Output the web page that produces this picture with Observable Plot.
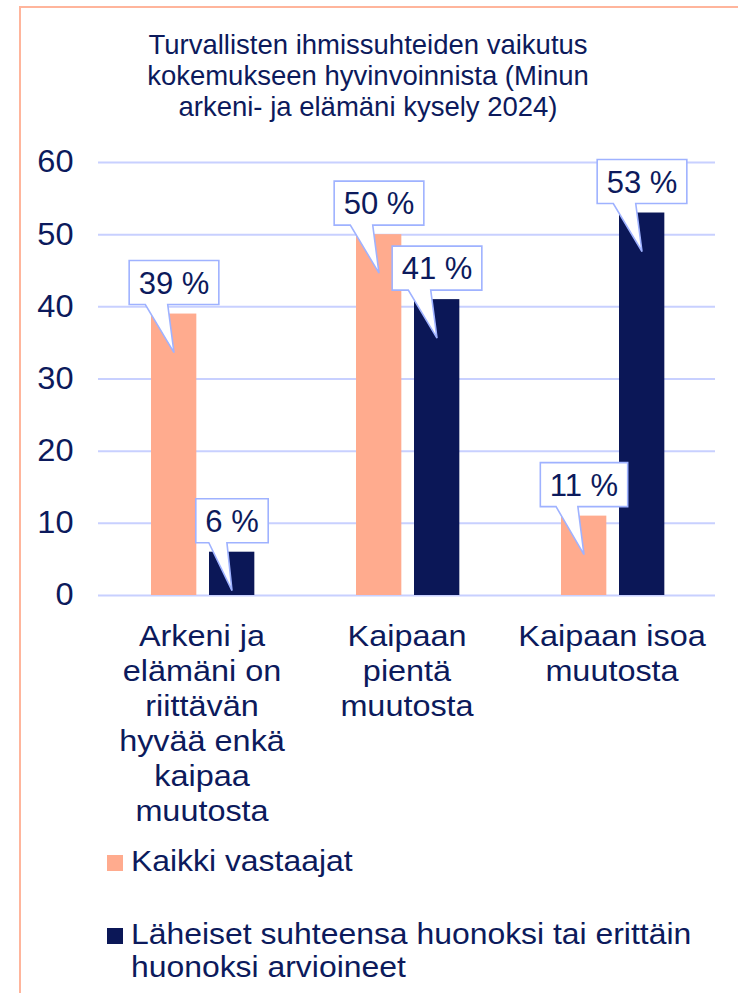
<!DOCTYPE html>
<html><head><meta charset="utf-8">
<script src="https://cdn.jsdelivr.net/npm/d3@7"></script>
<script src="https://cdn.jsdelivr.net/npm/@observablehq/plot@0.6"></script>
<style>
body{margin:0;background:#fff;font-family:"Liberation Sans",Arial,sans-serif;color:#0c1a5c;}
#wrap{position:relative;width:738px;height:993px;overflow:hidden;background:#fff;}
#frame{position:absolute;left:19px;top:6px;width:800px;height:1100px;border-left:2px solid #ffb59c;border-top:2px solid #ffb59c;}
#title{position:absolute;left:0;width:736px;top:29px;text-align:center;font-size:27.5px;line-height:31px;}
#chart{position:absolute;left:0;top:140px;}
#legend{position:absolute;left:107px;top:844px;}
.item{position:relative;padding-left:24px;font-size:30px;line-height:33px;width:590px;}
.lab{display:inline-block;transform:scaleX(1.063);transform-origin:0 0;}
.sw{position:absolute;left:0;top:11px;width:16px;height:16px;}
</style></head>
<body><div id="wrap"><div id="frame"></div><div id="title"></div><div id="chart"></div><div id="legend"></div></div>
<script>
const titleLines = ["Turvallisten ihmissuhteiden vaikutus","kokemukseen hyvinvoinnista (Minun","arkeni- ja elämäni kysely 2024)"];
const categories = ["Arkeni ja elämäni on riittävän hyvää enkä kaipaa muutosta","Kaipaan pientä muutosta","Kaipaan isoa muutosta"];
const categoryLabels = ["Arkeni ja\nelämäni on\nriittävän\nhyvää enkä\nkaipaa\nmuutosta","Kaipaan\npientä\nmuutosta","Kaipaan isoa\nmuutosta"];
const seriesNames = ["Kaikki vastaajat","Läheiset suhteensa huonoksi tai erittäin huonoksi arvioineet"];
const allValues = [39, 50, 11];
const closeValues = [6, 41, 53];
const yTicks = [0, 10, 20, 30, 40, 50, 60];
const seriesColors = ["#ffab8e", "#0b1757"];
const textColor = "#0c1a5c";

document.getElementById("title").innerHTML = titleLines.join("<br>");

const rowsAll = categories.map((c, i) => ({category: c, value: allValues[i]}));
const rowsClose = categories.map((c, i) => ({category: c, value: closeValues[i]}));

const barW = 46;
const insets = [[52, 107.67], [110, 49.67]];

const chart = Plot.plot({
  width: 738, height: 700,
  marginLeft: 98, marginRight: 23, marginTop: 22, marginBottom: 245,
  style: {fontFamily: "'Liberation Sans', Arial, sans-serif", color: textColor, background: "transparent", overflow: "visible"},
  x: {domain: categories, padding: 0, axis: null},
  y: {domain: [0, 60], axis: null},
  marks: [
    Plot.ruleY(yTicks, {stroke: "#c8d0ff", strokeWidth: 2}),
    Plot.text(yTicks, {y: d => d, frameAnchor: "left", dx: -25, textAnchor: "end", text: d => String(d), fontSize: 31, fill: textColor, className: "ytick"}),
    Plot.barY(rowsAll, {x: "category", y: "value", fill: seriesColors[0], insetLeft: insets[0][0], insetRight: insets[0][1]}),
    Plot.barY(rowsClose, {x: "category", y: "value", fill: seriesColors[1], insetLeft: insets[1][0], insetRight: insets[1][1]}),
    Plot.text(categories, {x: d => d, y: d => 0, text: (d, i) => categoryLabels[i], lineAnchor: "top", dy: 26, fontSize: 30, lineHeight: 1.167, fill: textColor, className: "xlab"})
  ]
});
document.getElementById("chart").appendChild(chart);

// widen category labels slightly to match the reference glyph widths
d3.select(chart).selectAll("g.xlab text").each(function() {
  const t = this.getAttribute("transform") || "";
  this.setAttribute("transform", t + " scale(1.08,1)");
});
d3.select(chart).selectAll("g.ytick text").each(function() {
  const t = this.getAttribute("transform") || "";
  this.setAttribute("transform", t + " scale(1.05,1)");
});

// callouts
const xs = chart.scale("x"), ys = chart.scale("y");
const svg = d3.select(chart);
const g = svg.append("g").attr("class", "callouts");
const callouts = [];
categories.forEach((c, i) => {
  callouts.push({category: c, value: allValues[i], s: 0});
  callouts.push({category: c, value: closeValues[i], s: 1});
});
callouts.forEach(d => {
  const cx = xs.apply(d.category) + insets[d.s][0] + barW / 2;
  const yTop = ys.apply(d.value);
  const gg = g.append("g");
  const path = gg.append("path");
  const t = gg.append("text")
    .attr("x", cx).attr("text-anchor", "middle")
    .attr("font-size", 31).attr("fill", textColor)
    .attr("font-family", "'Liberation Sans', Arial, sans-serif")
    .text(d.value + " %");
  const tw = t.node().getComputedTextLength();
  const w = tw + 19, h = 44;
  const B = yTop - 9, T = B - h, L = cx - w / 2, R = cx + w / 2;
  t.attr("y", (T + B) / 2 + 11);
  const x1 = cx - 0.32 * w, x2 = cx - 0.07 * w;
  path.attr("d", `M${L},${T}H${R}V${B}H${x2}L${cx},${yTop + 39}L${x1},${B}H${L}Z`)
    .attr("fill", "#fff").attr("stroke", "#9fb2ff").attr("stroke-width", 1.6).attr("stroke-linejoin", "miter");
});

// legend
const legend = document.getElementById("legend");
seriesNames.forEach((name, i) => {
  const div = document.createElement("div");
  div.className = "item";
  div.style.marginTop = i === 0 ? "0" : "40px";
  div.innerHTML = `<span class="sw" style="background:${seriesColors[i]}"></span><span class="lab">${name}</span>`;
  legend.appendChild(div);
});
</script></body></html>
